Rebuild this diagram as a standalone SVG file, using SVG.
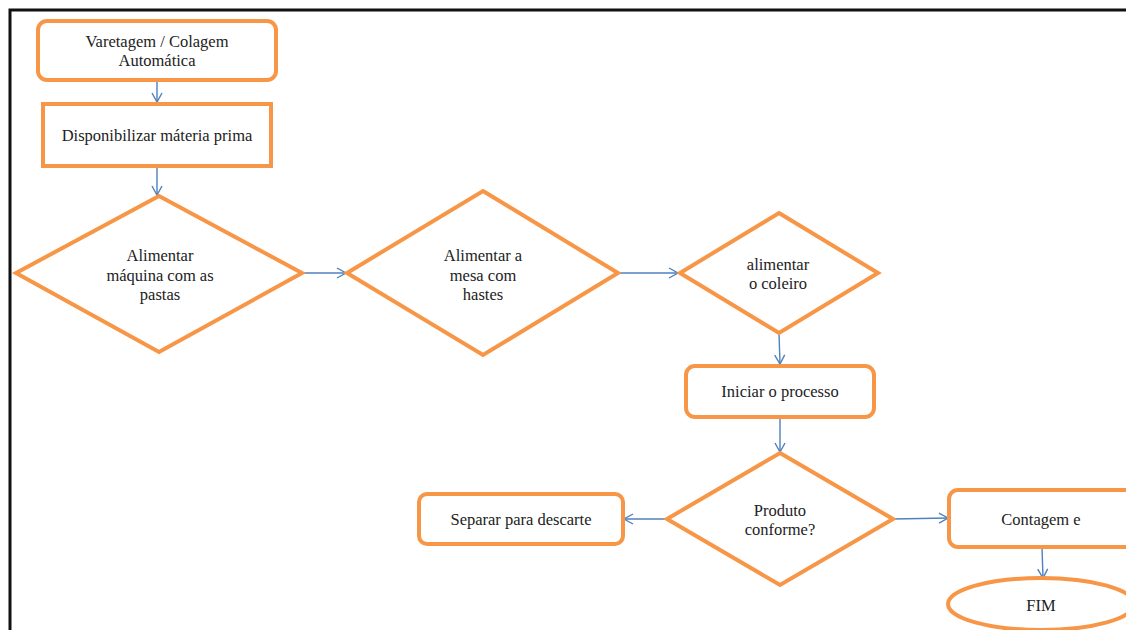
<svg xmlns="http://www.w3.org/2000/svg" width="1126" height="630" viewBox="0 0 1126 630">
<style>
.n{fill:#fff;stroke:#F79646;stroke-width:4;}
.t{font-family:'Liberation Serif','DejaVu Serif',serif;font-size:16.5px;fill:#222;text-anchor:middle;}
.c{fill:none;stroke:#4F81BD;stroke-width:1.4;}
</style>
<defs>
<marker id="a" markerWidth="12" markerHeight="12" refX="10" refY="6" orient="auto" markerUnits="userSpaceOnUse">
<path d="M1,1 L10,6 L1,11" fill="none" stroke="#4F81BD" stroke-width="1.4"/>
</marker>
</defs>
<rect x="0" y="0" width="1126" height="630" fill="#fff"/>
<g id="frame" fill="none" stroke="#111" stroke-width="3">
<path d="M10,630 L10,10 L1126,10"/>
</g>
<g id="connectors">
<path class="c" d="M157,80 L157,102" marker-end="url(#a)"/>
<path class="c" d="M157,166 L157,195" marker-end="url(#a)"/>
<path class="c" d="M302,273 L346,273" marker-end="url(#a)"/>
<path class="c" d="M618,273 L678,273" marker-end="url(#a)"/>
<path class="c" d="M779,333 L780,364" marker-end="url(#a)"/>
<path class="c" d="M780,417 L780,452" marker-end="url(#a)"/>
<path class="c" d="M667,519 L624,519" marker-end="url(#a)"/>
<path class="c" d="M893,519 L948,518" marker-end="url(#a)"/>
<path class="c" d="M1042,547 L1043,578" marker-end="url(#a)"/>
</g>
<g id="n1">
<rect class="n" x="38" y="21" width="238" height="59" rx="9"/>
<text class="t" x="157" y="47" font-family="Liberation Serif, serif">Varetagem / Colagem</text>
<text class="t" x="157" y="66" font-family="Liberation Serif, serif">Automática</text>
</g>
<g id="n2">
<rect class="n" x="43" y="104" width="228" height="62"/>
<text class="t" x="157" y="141" font-family="Liberation Serif, serif">Disponibilizar máteria prima</text>
</g>
<g id="n3">
<polygon class="n" points="159,196 302,273 159,352 16,273"/>
<text class="t" x="160" y="261" font-family="Liberation Serif, serif">Alimentar</text>
<text class="t" x="160" y="281" font-family="Liberation Serif, serif">máquina com as</text>
<text class="t" x="160" y="300" font-family="Liberation Serif, serif">pastas</text>
</g>
<g id="n4">
<polygon class="n" points="483,191 618,273 483,355 347,273"/>
<text class="t" x="483" y="261" font-family="Liberation Serif, serif">Alimentar a</text>
<text class="t" x="483" y="281" font-family="Liberation Serif, serif">mesa com</text>
<text class="t" x="483" y="300" font-family="Liberation Serif, serif">hastes</text>
</g>
<g id="n5">
<polygon class="n" points="779,213 878,273 779,333 680,273"/>
<text class="t" x="778" y="270" font-family="Liberation Serif, serif">alimentar</text>
<text class="t" x="778" y="289" font-family="Liberation Serif, serif">o coleiro</text>
</g>
<g id="n6">
<rect class="n" x="686" y="366" width="188" height="51" rx="9"/>
<text class="t" x="780" y="397" font-family="Liberation Serif, serif">Iniciar o processo</text>
</g>
<g id="n7">
<polygon class="n" points="780,453 893,519 780,585 667,519"/>
<text class="t" x="780" y="516" font-family="Liberation Serif, serif">Produto</text>
<text class="t" x="780" y="535" font-family="Liberation Serif, serif">conforme?</text>
</g>
<g id="n8">
<rect class="n" x="419" y="494" width="204" height="50" rx="8"/>
<text class="t" x="521" y="525" font-family="Liberation Serif, serif">Separar para descarte</text>
</g>
<g id="n9">
<rect class="n" x="949" y="490" width="200" height="57" rx="9"/>
<text class="t" x="1041" y="525" font-family="Liberation Serif, serif">Contagem e</text>
</g>
<g id="n10">
<ellipse class="n" cx="1041" cy="604" rx="93" ry="26"/>
<text class="t" x="1041" y="611" font-family="Liberation Serif, serif">FIM</text>
</g>
</svg>
